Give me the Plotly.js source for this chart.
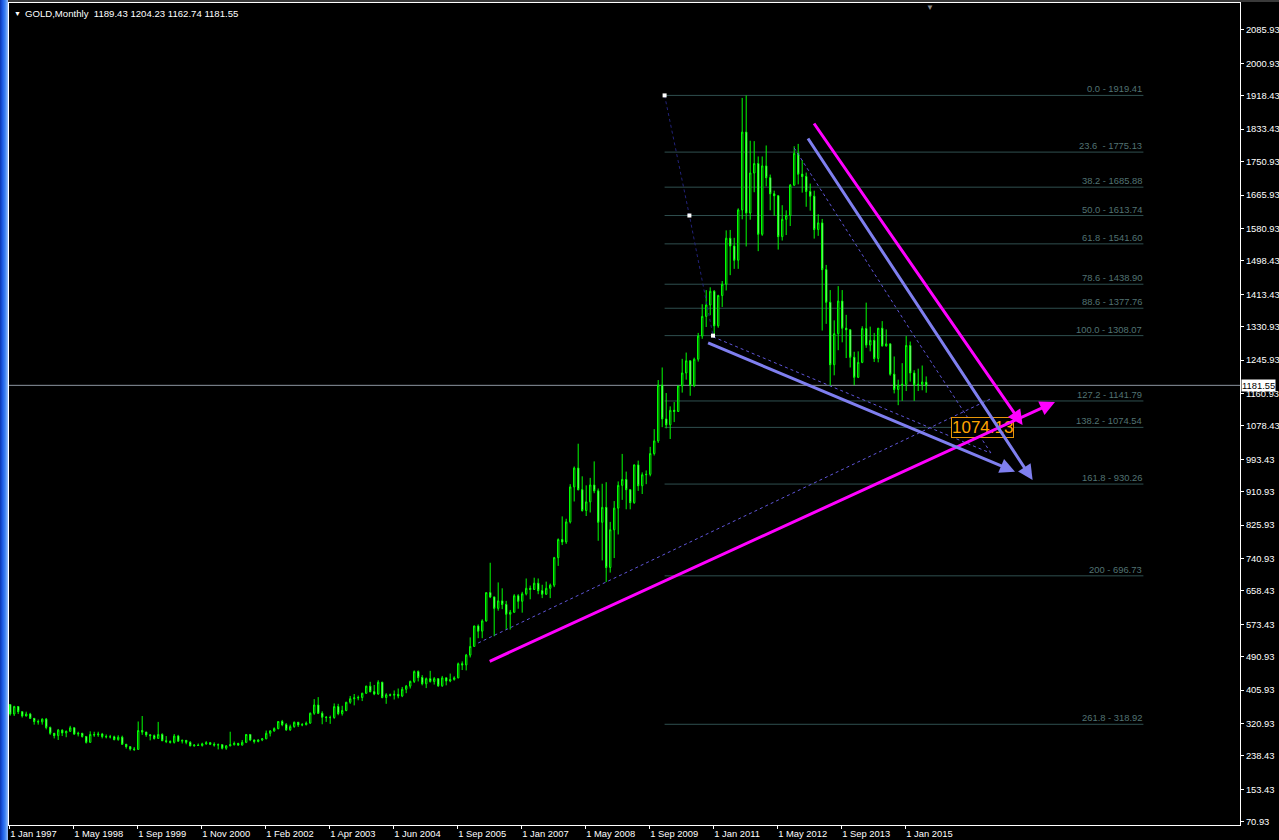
<!DOCTYPE html>
<html>
<head>
<meta charset="utf-8">
<script src="https://cdn.plot.ly/plotly-3.0.1.min.js"></script>
<style>
  html, body { margin: 0; padding: 0; background: #000; overflow: hidden; }
  #chart { position: absolute; left: 0; top: 0; width: 1279px; height: 840px; }
  #frameLeft { position: absolute; left: 0; top: 0; width: 8px; height: 840px;
    background: linear-gradient(to right, #0a34b0, #1f5fe8 35%, #3f84f2 65%, #9cc0fa); }
  #frameTop { position: absolute; left: 8px; top: 0; width: 1271px; height: 2px; background: #3a3a3a; }
</style>
</head>
<body>
<div id="chart"></div>
<div id="frameLeft"></div>
<div id="frameTop"></div>
<script>
// ---------------- DATA (monthly GOLD bars, one per chart bar) ----------------
const barOpen = [
  369,345,364,351,340,345,334,326,325,332,311,296,            // 1997
  290,304,297,301,310,294,296,288,273,293,292,294,            // 1998
  288,287,287,280,286,268,262,256,255,303,299,292,            // 1999
  290,283,293,277,275,273,289,276,278,273,264,266,265,269,272, // 2000
  268,266,267,258,264,267,270,266,273,293,279,275,            // 2001
  279,282,296,302,308,326,318,305,313,324,317,318,322,        // 2002
  347,368,347,337,336,336,364,346,354,375,384,386,387,398,    // 2003
  416,402,396,426,387,394,393,395,391,408,416,428,453,        // 2004
  438,422,435,428,435,417,437,429,433,437,473,470,495,        // 2005
  517,569,556,582,654,643,614,633,624,599,604,646,            // 2006
  632,651,665,662,678,659,650,665,673,743,789,783,            // 2007
  834,923,971,916,863,885,928,913,833,871,718,814,            // 2008
  869,927,942,916,883,979,926,954,955,1008,1040,1182,         // 2009
  1096,1081,1118,1115,1180,1213,1244,1181,1248,1307,1357,1386,// 2010
  1421,1333,1410,1439,1556,1536,1500,1628,1826,1620,1722,1746,// 2011
  1566,1740,1710,1669,1664,1560,1604,1614,1691,1772,1719,1713,// 2012
  1675,1663,1578,1595,1476,1393,1234,1313,1396,1327,1323,1253,// 2013
  1202,1240,1326,1284,1296,1250,1327,1282,1287,1210,1171,1182,// 2014
  1184,1283,1213,1183,1184,1189.43                            // 2015
];
const barHigh = [
  370,366,365,352,351,348,335,331,334,335,313,297,
  307,306,303,315,311,300,297,289,301,300,300,297,
  293,292,290,291,290,269,263,261,326,340,300,293,
  293,325,296,289,278,294,292,280,279,276,268,270,272,276,274,
  273,270,268,266,300,275,272,279,294,294,280,281,
  284,303,304,311,327,330,322,318,326,325,322,326,349,
  383,388,352,340,341,372,371,366,376,391,396,392,399,417,
  427,419,431,427,398,397,405,410,414,419,430,456,456,
  444,438,455,439,436,442,439,448,441,476,479,498,540,
  570,573,586,654,730,644,680,665,633,610,650,650,
  656,690,672,692,690,674,682,677,745,792,848,842,
  930,975,1033,950,927,946,988,919,931,935,834,887,
  937,1007,962,917,980,990,960,965,1025,1070,1195,1227,
  1162,1128,1139,1180,1249,1265,1245,1252,1315,1388,1424,1431,
  1424,1412,1447,1576,1577,1557,1632,1913,1919.41,1804,1803,1764,
  1764,1792,1718,1677,1666,1640,1627,1694,1790,1796,1755,1723,
  1695,1677,1617,1605,1488,1424,1347,1434,1424,1361,1325,1267,
  1268,1332,1392,1331,1315,1326,1345,1324,1289,1255,1196,1238,
  1307,1293,1220,1224,1232,1204.23
];
const barLow = [
  341,340,345,336,339,333,318,318,318,306,292,283,
  279,289,286,300,292,288,285,270,272,287,287,283,
  283,283,278,277,267,257,252,251,254,292,287,278,
  280,282,276,271,270,270,275,270,268,263,262,264,262,267,266,
  262,255,255,254,263,265,264,265,271,276,270,273,
  276,281,288,300,306,314,302,302,310,312,314,316,320,
  343,345,319,325,320,333,342,341,352,371,367,380,378,396,
  400,393,394,385,371,390,382,385,388,398,410,424,428,
  418,411,425,420,414,414,418,426,430,436,457,456,489,
  517,538,538,580,640,543,608,612,560,560,603,613,
  603,647,637,661,650,640,648,640,668,722,775,778,
  830,886,914,860,849,858,907,786,736,681,705,742,
  802,890,866,866,880,913,905,930,950,1003,1035,1075,
  1072,1045,1088,1115,1163,1196,1155,1177,1242,1300,1330,1360,
  1309,1328,1381,1423,1462,1478,1478,1604,1535,1603,1673,1523,
  1562,1688,1627,1613,1527,1550,1564,1587,1689,1693,1672,1636,
  1626,1555,1562,1321,1338,1180,1207,1271,1291,1251,1227,1182,
  1200,1238,1277,1268,1241,1240,1280,1280,1206,1161,1131,1142,
  1167,1191,1142,1167,1169,1162.74
];
const barClose = [
  345,364,351,340,345,334,326,325,332,311,296,290,
  304,297,301,310,294,296,288,273,293,292,294,288,
  287,287,280,286,268,262,256,255,303,299,292,290,
  283,293,277,275,273,289,276,278,273,264,266,265,269,272,268,
  266,267,258,264,267,270,266,273,293,279,275,279,
  282,296,302,308,326,318,305,313,324,317,318,322,347,
  368,347,337,336,336,364,346,354,375,384,386,387,398,416,
  402,396,426,387,394,393,395,391,408,416,428,453,438,
  422,435,428,435,417,437,429,433,437,473,470,495,517,
  569,556,582,654,643,614,633,624,599,604,646,632,
  651,665,662,678,659,650,665,673,743,789,783,834,
  923,971,916,863,885,928,913,833,871,718,814,869,
  927,942,916,883,979,926,954,955,1008,1040,1182,1096,
  1081,1118,1115,1180,1213,1244,1181,1248,1307,1357,1386,1421,
  1333,1410,1439,1556,1536,1500,1628,1826,1620,1722,1746,1566,
  1740,1710,1669,1664,1560,1604,1614,1691,1772,1719,1713,1675,
  1663,1578,1595,1476,1393,1234,1313,1396,1327,1323,1253,1202,
  1240,1326,1284,1296,1250,1327,1282,1287,1210,1171,1182,1184,
  1283,1213,1183,1184,1190,1181.55
];

// time axis labels (bar index of each label)
const timeTickBars = [0,16,32,48,64,80,96,112,128,144,160,176,192,208,224];
const timeTickText = ['1 Jan 1997','1 May 1998','1 Sep 1999','1 Nov 2000','1 Feb 2002','1 Apr 2003',
  '1 Jun 2004','1 Sep 2005','1 Jan 2007','1 May 2008','1 Sep 2009','1 Jan 2011','1 May 2012',
  '1 Sep 2013','1 Jan 2015'];

// price axis labels
const priceTicks = [70.93,153.43,238.43,320.93,405.93,490.93,573.43,658.43,740.93,825.93,910.93,
  993.43,1078.43,1160.93,1245.93,1330.93,1413.43,1498.43,1580.93,1665.93,1750.93,1833.43,
  1918.43,2000.93,2085.93];

// Fibonacci retracement object
const fibLabels = ['0.0 - 1919.41','23.6\u00a0\u00a0- 1775.13','38.2 - 1685.88','50.0 - 1613.74',
  '61.8 - 1541.60','78.6 - 1438.90','88.6 - 1377.76','100.0 - 1308.07','127.2 - 1141.79',
  '138.2 - 1074.54','161.8 - 930.26','200 - 696.73','261.8 - 318.92'];
const fibPrices = [1919.41,1775.13,1685.88,1613.74,1541.60,1438.90,1377.76,1308.07,1141.79,
  1074.54,930.26,696.73,318.92];
const fibSpanBars = [163.6, 283.3];
const fibAnchorBars = [163.6, 169.8, 175.7];
const fibAnchorPrices = [1919.41, 1613.74, 1308.07];

// arrowed trend lines
const arrowColors = ['#FF00FF','#FF00FF','#7F7FEF','#7F7FEF'];
const arrowFromBar = [200.7, 119.5, 199.2, 174.1];
const arrowFromPrice = [1851.8, 477.5, 1813.6, 1291.1];
const arrowToBar = [253.1, 261.2, 255.6, 251.2];
const arrowToPrice = [1080.6, 1139.2, 940.6, 961.8];

// dotted triangle lines
const dotLowerBars = [117.0, 245.4];
const dotLowerPrices = [525.8, 1148.6];
const dotMidBars = [175.7, 245.0];
const dotMidPrices = [1305.0, 1009.4];
const dotUpperBars = [196.0, 225.5, 245.5];
const dotUpperPrices = [1785.6, 1314.8, 1004.3];

// price label box
const boxText = '1074.13';
const boxBar = 243.1;
const boxPrice = 1074.13;

// ---------------- CHART ----------------
const N = barOpen.length;
const barIndex = barOpen.map((_, i) => i);
const lastClose = barClose[N - 1];
const FONT = 'Liberation Sans, Arial, sans-serif';
const FS = 9.4;

const traces = [
  {
    type: 'candlestick', x: barIndex,
    open: barOpen, high: barHigh, low: barLow, close: barClose,
    increasing: { line: { color: '#00FF00', width: 1 }, fillcolor: '#000000' },
    decreasing: { line: { color: '#00FF00', width: 1 }, fillcolor: '#FFFFFF' },
    whiskerwidth: 0, hoverinfo: 'skip', showlegend: false
  },
  { type: 'scatter', mode: 'lines', x: fibAnchorBars, y: fibAnchorPrices,
    line: { color: '#22227a', width: 1, dash: 'dot' }, hoverinfo: 'skip', showlegend: false },
  { type: 'scatter', mode: 'lines', x: dotLowerBars, y: dotLowerPrices,
    line: { color: '#5f55d8', width: 1, dash: 'dot' }, hoverinfo: 'skip', showlegend: false },
  { type: 'scatter', mode: 'lines', x: dotMidBars, y: dotMidPrices,
    line: { color: '#5f55d8', width: 1, dash: 'dot' }, hoverinfo: 'skip', showlegend: false },
  { type: 'scatter', mode: 'lines', x: dotUpperBars, y: dotUpperPrices,
    line: { color: '#5f55d8', width: 1, dash: 'dot' }, hoverinfo: 'skip', showlegend: false },
  { type: 'scatter', mode: 'markers', x: fibAnchorBars, y: fibAnchorPrices,
    marker: { symbol: 'square', size: 4, color: '#FFFFFF', line: { width: 0 } },
    hoverinfo: 'skip', showlegend: false }
];

const shapes = [];
fibPrices.forEach(p => shapes.push({
  type: 'line', xref: 'x', yref: 'y', x0: fibSpanBars[0], x1: fibSpanBars[1], y0: p, y1: p,
  line: { color: '#2F4F4F', width: 1 }, layer: 'below'
}));
shapes.push({
  type: 'line', xref: 'paper', yref: 'y', x0: 0, x1: 1, y0: lastClose, y1: lastClose,
  line: { color: '#8C96A0', width: 1 }, layer: 'below'
});

const annotations = [];
fibLabels.forEach((t, i) => annotations.push({
  xref: 'x', yref: 'y', x: fibSpanBars[1], y: fibPrices[i], xanchor: 'right', yanchor: 'bottom',
  text: t, showarrow: false, font: { family: FONT, size: FS, color: '#527373' }, borderpad: 0, yshift: 0
}));
annotations.push({
  xref: 'x', yref: 'y', x: boxBar, y: boxPrice, text: boxText, showarrow: false,
  font: { family: 'Liberation Sans Narrow, Liberation Sans, Arial, sans-serif', size: 17, color: '#FFA500' },
  bgcolor: '#000000', bordercolor: '#E8960A', borderwidth: 1, borderpad: 0
});
arrowColors.forEach((c, i) => annotations.push({
  xref: 'x', yref: 'y', axref: 'x', ayref: 'y',
  x: arrowToBar[i], y: arrowToPrice[i], ax: arrowFromBar[i], ay: arrowFromPrice[i],
  text: '', showarrow: true, arrowhead: 2, arrowsize: 1, arrowwidth: 3, arrowcolor: c, standoff: 0
}));
// header
annotations.push({
  xref: 'paper', yref: 'paper', x: 0, y: 1, xanchor: 'left', yanchor: 'top', xshift: 3, yshift: -5,
  text: '\u25BC', showarrow: false, font: { family: FONT, size: 7, color: '#FFFFFF' }
});
annotations.push({
  xref: 'paper', yref: 'paper', x: 0, y: 1, xanchor: 'left', yanchor: 'top', xshift: 14, yshift: -3,
  text: 'GOLD,Monthly\u00a0\u00a0' + [barOpen[N-1], barHigh[N-1], barLow[N-1], barClose[N-1]].map(v => v.toFixed(2)).join(' '),
  showarrow: false, font: { family: FONT, size: 9.6, color: '#FFFFFF' }
});
// chart shift marker
annotations.push({
  xref: 'paper', yref: 'paper', x: 0.748, y: 1, xanchor: 'center', yanchor: 'top', yshift: 1,
  text: '\u25BC', showarrow: false, font: { family: FONT, size: 8, color: '#8a8a8a' }, borderpad: 0
});
// last price tag
annotations.push({
  xref: 'paper', yref: 'y', x: 1, y: lastClose, xanchor: 'left', xshift: 1,
  text: lastClose.toFixed(2), showarrow: false, bgcolor: '#FFFFFF', borderpad: 0,
  font: { family: FONT, size: FS, color: '#000000' }
});

const layout = {
  width: 1279, height: 840,
  margin: { l: 9, r: 39, t: 3, b: 15, pad: 0 },
  paper_bgcolor: '#000000', plot_bgcolor: '#000000',
  showlegend: false, boxgap: 0.5,
  xaxis: {
    range: [-0.3, 307.45], fixedrange: true,
    tickvals: timeTickBars.map(b => b - 0.25), ticktext: timeTickText,
    ticks: 'outside', ticklen: 3, tickcolor: '#FFFFFF', ticklabelposition: 'outside right',
    tickfont: { family: FONT, size: FS, color: '#FFFFFF' },
    showline: true, linecolor: '#FFFFFF', linewidth: 1, mirror: true,
    showgrid: false, zeroline: false, rangeslider: { visible: false }
  },
  yaxis: {
    side: 'right', range: [62.6, 2154.6], fixedrange: true,
    tickvals: priceTicks, ticktext: priceTicks.map(v => v.toFixed(2)),
    ticks: 'outside', ticklen: 3, tickcolor: '#FFFFFF',
    tickfont: { family: FONT, size: FS, color: '#FFFFFF' },
    showline: true, linecolor: '#FFFFFF', linewidth: 1, mirror: true,
    showgrid: false, zeroline: false
  },
  shapes: shapes,
  annotations: annotations
};

Plotly.newPlot('chart', traces, layout, { staticPlot: true, displayModeBar: false });
</script>
</body>
</html>
